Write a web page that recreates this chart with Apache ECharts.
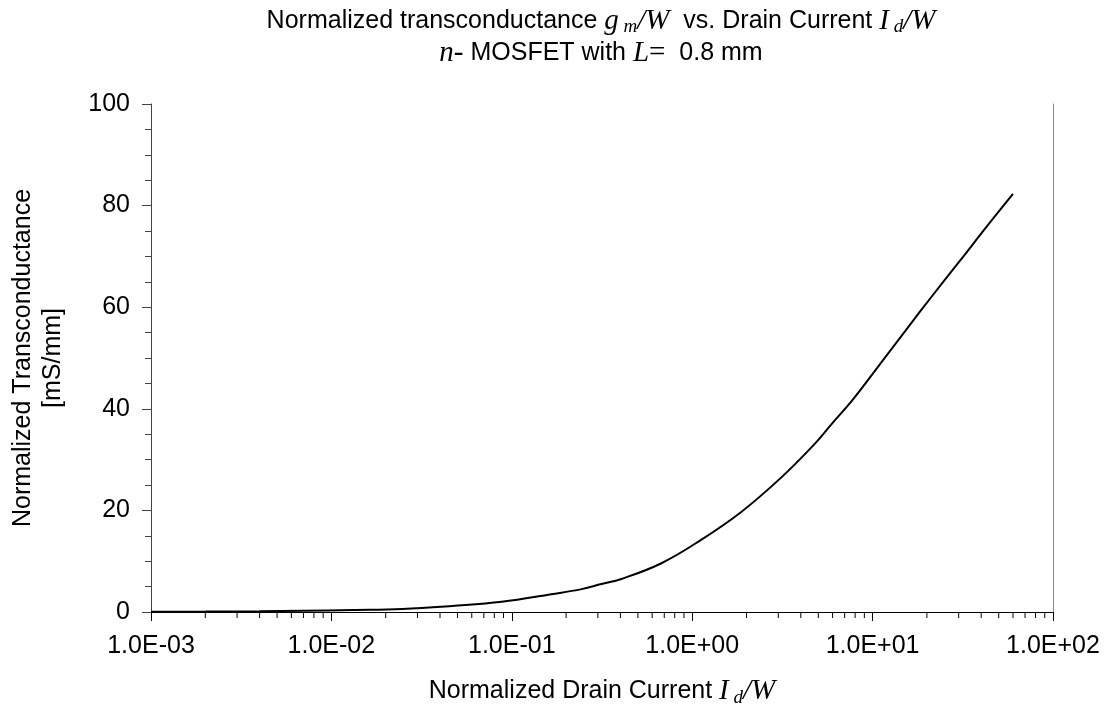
<!DOCTYPE html>
<html>
<head>
<meta charset="utf-8">
<script src="https://cdn.jsdelivr.net/npm/echarts@6/dist/echarts.min.js"></script>
<style>
html,body{margin:0;padding:0;background:#fff;}
#c{width:1109px;height:715px;}
</style>
</head>
<body>
<div id="c"></div>
<script>
// Normalized drain current Id/W (mA/mm) and normalized transconductance gm/W (mS/mm)
const drainCurrent = [0.001, 0.002, 0.004, 0.007, 0.0131, 0.0247, 0.0467, 0.088, 0.166, 0.244, 0.314, 0.405, 0.675, 1.12, 1.87, 3.10, 4.72, 5.86, 7.85, 11.1, 15.6, 21.7, 30.6, 43.2, 60];
const transconductance = [0.05, 0.08, 0.15, 0.25, 0.4, 0.6, 1.2, 2.0, 3.5, 4.5, 5.5, 6.5, 9.6, 14.2, 19.7, 26.4, 32.9, 36.8, 42.0, 49.0, 55.9, 62.5, 69.2, 76.0, 82.3];
const xMinorTicks = [];
[0.001, 0.01, 0.1, 1, 10].forEach(d => { for (let k = 2; k <= 9; k++) xMinorTicks.push(+(d * k).toPrecision(3)); });

const chart = echarts.init(document.getElementById('c'));
const FONT = '"Liberation Sans", Arial, sans-serif';
const SERIF = '"Liberation Serif", "Times New Roman", serif';
const FS = 25;

function fmtE(v) {
  const e = Math.round(Math.log10(v));
  const m = v / Math.pow(10, e);
  const sign = e < 0 ? '-' : '+';
  const a = Math.abs(e);
  return m.toFixed(1) + 'E' + sign + (a < 10 ? '0' + a : a);
}

const richMath = {
  n: { fontFamily: FONT, fontSize: FS, color: '#000' },
  i: { fontFamily: SERIF, fontStyle: 'italic', fontSize: 29, color: '#000' },
  s: { fontFamily: SERIF, fontStyle: 'italic', fontSize: 19, color: '#000', padding: [12, 0, 0, 0] },
  r: { fontFamily: SERIF, fontSize: 29, color: '#000' }
};

chart.setOption({
  animation: false,
  backgroundColor: '#fff',
  title: {
    text: '{n|Normalized transconductance }{i|g}{s| m}{i|/W}{n|  vs. Drain Current }{i|I}{s| d}{i|/W}\n{i|n}{r|-}{n| MOSFET with }{i|L}{r|=}{n|  0.8 mm}',
    left: 596,
    top: 0,
    textAlign: 'center',
    textStyle: { fontFamily: FONT, fontSize: FS, fontWeight: 'normal', color: '#000', lineHeight: 32, rich: richMath }
  },
  grid: { left: 148, right: 56, top: 104, bottom: 103, containLabel: false },
  xAxis: [{
    type: 'log', logBase: 10, min: 0.001, max: 100,
    axisLine: { show: true, lineStyle: { color: '#000', width: 1 } },
    axisTick: { show: true, length: 9, lineStyle: { color: '#000' } },
    splitLine: { show: false },
    axisLabel: { formatter: fmtE, fontFamily: FONT, fontSize: FS, color: '#000', margin: 22 },
    name: '{n|Normalized Drain Current }{i|I}{s| d}{i|/W}',
    nameLocation: 'middle',
    nameGap: 64,
    nameTextStyle: { rich: richMath }
  }, {
    type: 'log', logBase: 10, min: 0.001, max: 100, position: 'top',
    axisLine: { show: true, lineStyle: { color: '#000', width: 1 } },
    axisTick: { show: false }, axisLabel: { show: false }, splitLine: { show: false }
  }],
  yAxis: [{
    type: 'value', min: 0, max: 100, interval: 20,
    axisLine: { show: true, lineStyle: { color: '#444', width: 1 } },
    axisTick: { show: true, length: 9, lineStyle: { color: '#444' } },
    minorTick: { show: true, splitNumber: 4, length: 6, lineStyle: { color: '#444' } },
    splitLine: { show: false },
    axisLabel: { fontFamily: FONT, fontSize: FS, color: '#000', margin: 21 },
    name: 'Normalized Transconductance\n[mS/mm]',
    nameLocation: 'middle',
    nameGap: 83,
    nameTextStyle: { fontFamily: FONT, fontSize: FS, color: '#000', lineHeight: 30 }
  }, {
    type: 'value', min: 0, max: 100, position: 'right',
    axisLine: { show: true, lineStyle: { color: '#888', width: 1 } },
    axisTick: { show: false }, axisLabel: { show: false }, splitLine: { show: false }
  }],
  series: [{
    type: 'custom',
    xAxisIndex: 0, yAxisIndex: 0,
    silent: true,
    data: xMinorTicks.map(v => [v, 0]),
    renderItem: function (params, api) {
      const p = api.coord([api.value(0), 0]);
      return { type: 'line', shape: { x1: p[0], y1: p[1], x2: p[0], y2: p[1] + 6 }, style: { stroke: '#000', lineWidth: 1 } };
    },
    z: 1
  }, {
    type: 'line',
    xAxisIndex: 0, yAxisIndex: 0,
    data: drainCurrent.map((x, i) => [x, transconductance[i]]),
    showSymbol: false,
    smooth: 0.4,
    lineStyle: { color: '#000', width: 2 },
    z: 3
  }]
});
</script>
</body>
</html>
